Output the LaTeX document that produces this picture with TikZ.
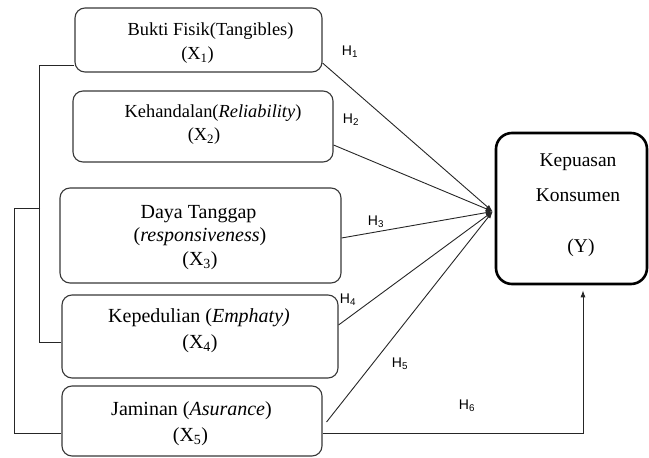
\documentclass[tikz,border=0pt]{standalone}
\usepackage{fontspec}
\setmainfont{Liberation Serif}
\newfontfamily\hsans{Liberation Sans}
\usetikzlibrary{arrows.meta,calc}
\begin{document}
\begin{tikzpicture}[x=1pt,y=-1pt,
 box/.style={draw=black!78, line width=1.1pt, rounded corners=10pt, inner sep=0pt},
 ybox/.style={draw=black, line width=2.6pt, rounded corners=16pt, inner sep=0pt},
 txtA/.style={inner sep=0pt, font=\fontsize{18.4}{22}\selectfont},
 txtB/.style={inner sep=0pt, font=\fontsize{20}{24}\selectfont},
 txtY/.style={inner sep=0pt, font=\fontsize{19.5}{23}\selectfont},
 hl/.style={inner sep=0pt, font=\hsans\fontsize{14}{16}\selectfont},
 conn/.style={draw=black!85, line width=0.9pt},
 arr/.style={conn, -{Latex[length=7pt,width=5pt]}}]
\useasboundingbox (0,0) rectangle (649,458);
% boxes
\node[box, minimum width=247pt, minimum height=64pt] (b1) at (198.5,40) {};
\node[box, minimum width=260pt, minimum height=71pt] (b2) at (203,126.5) {};
\node[box, minimum width=281pt, minimum height=95pt] (b3) at (200.5,235.5) {};
\node[box, minimum width=276pt, minimum height=83pt] (b4) at (200,336.5) {};
\node[box, minimum width=260pt, minimum height=70pt] (b5) at (192,421) {};
\node[ybox, minimum width=151pt, minimum height=151pt] (Y) at (571.5,208.5) {};
% texts
\node[txtA] (t1a) at (210.5,31) {Bukti Fisik(Tangibles)};
\node[txtA] (t1b) at (197.5,55) {(X\textsubscript{1})};
\node[txtA] (t2a) at (213,113) {Kehandalan(\textit{Reliability})};
\node[txtA] (t2b) at (204,136) {(X\textsubscript{2})};
\node[txtB] (t3a) at (198.5,214) {Daya Tanggap};
\node[txtB] (t3b) at (200,237) {(\textit{responsiveness})};
\node[txtB] (t3c) at (200,261) {(X\textsubscript{3})};
\node[txtB] (t4a) at (199,318) {Kepedulian (\textit{Emphaty)}};
\node[txtB] (t4b) at (200,344) {(X\textsubscript{4})};
\node[txtB] (t5a) at (191.5,411) {Jaminan (\textit{Asurance})};
\node[txtB] (t5b) at (190.5,437) {(X\textsubscript{5})};
\node[txtY] (ya) at (578,162) {Kepuasan};
\node[txtY] (yb) at (578,195) {Konsumen};
\node[txtY] (yc) at (581,248) {(Y)};
% hypothesis labels
\node[hl] (h1) at (350,52) {H\textsubscript{1}};
\node[hl] (h2) at (351,120) {H\textsubscript{2}};
\node[hl] (h3) at (376,222) {H\textsubscript{3}};
\node[hl] (h4) at (348,300) {H\textsubscript{4}};
\node[hl] (h5) at (400,364) {H\textsubscript{5}};
\node[hl] (h6) at (467,406) {H\textsubscript{6}};
% connectors
\coordinate (tgt) at ([xshift=-2pt,yshift=-3pt]Y.west);
\draw[arr] ([yshift=-23pt]b1.east) -- (tgt);
\draw[arr] ([yshift=-18.5pt]b2.east) -- (tgt);
\draw[arr] ([yshift=-2.5pt]b3.east) -- (tgt);
\draw[arr] ([yshift=11.5pt]b4.east) -- (tgt);
\coordinate (s5) at ([xshift=4pt,yshift=-1pt]b5.east);
\draw[arr] (s5) -- (tgt);
\coordinate (e6) at ([xshift=11.5pt,yshift=-5pt]Y.south);
\draw[arr] ([yshift=-12pt]b5.east) -| (e6);
% left correlations
\draw[conn] ([yshift=-25pt]b1.west) -- ++(-35,0) |- ([yshift=-5.5pt]b4.west);
\coordinate (j) at (40,208);
\draw[conn] (j) -- ++(-26,0) |- ([yshift=-12pt]b5.west);
\end{tikzpicture}
\end{document}
